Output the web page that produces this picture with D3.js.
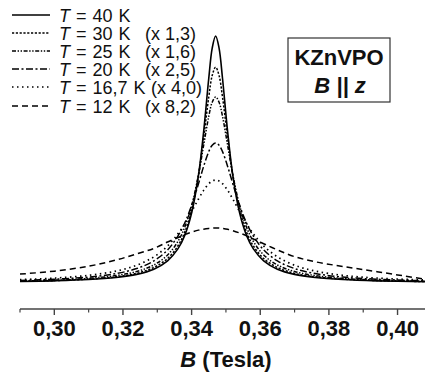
<!DOCTYPE html>
<html>
<head>
<meta charset="utf-8">
<script src="https://cdn.jsdelivr.net/npm/d3@7"></script>
<style>
  html, body { margin: 0; padding: 0; background: #fff; }
  svg { display: block; font-family: "Liberation Sans", Arial, sans-serif; }
</style>
</head>
<body>
<svg id="chart" width="425" height="378"></svg>
<script>
// ---- data ----
const fieldB = [0.290,0.300,0.310,0.318,0.324,0.329,0.333,0.336,0.338,0.340,0.342,0.3435,0.345,0.346,0.347,0.348,0.349,0.3505,0.352,0.354,0.356,0.358,0.361,0.365,0.370,0.376,0.384,0.394,0.408];
const t40  = [0.59,0.87,1.39,2.25,3.5,5.6,9.0,13.8,19.3,28.3,43.6,61.2,82.9,95.1,100,95.1,82.9,61.2,43.6,28.3,19.3,13.8,9.0,5.6,3.5,2.25,1.39,0.87,0.52];
const t30  = [0.67,0.98,1.57,2.5,3.9,6.3,9.9,15.0,20.6,29.5,43.7,58.7,75.3,84.0,87.4,84.0,75.3,58.7,43.7,29.5,20.6,15.0,9.9,6.3,3.9,2.5,1.57,0.98,0.58];
const t25  = [0.80,1.17,1.87,2.99,4.65,7.3,11.35,16.8,22.6,31.3,43.8,55.7,67.5,73.2,75.3,73.2,67.5,55.7,43.8,31.3,22.6,16.8,11.35,7.3,4.65,2.99,1.87,1.17,0.70];
const t20  = [1.04,1.52,2.41,3.82,5.85,8.96,13.4,19.0,24.3,31.4,40.2,47.2,53.2,55.8,56.7,55.8,53.2,47.2,40.2,31.4,24.3,19.0,13.4,8.96,5.85,3.82,2.41,1.52,0.91];
const t167 = [1.37,1.98,3.11,4.83,7.19,10.6,15.0,19.9,24.0,28.9,34.0,37.5,40.2,41.3,41.7,41.3,40.2,37.5,34.0,28.9,24.0,19.9,15.0,10.6,7.19,4.83,3.11,1.98,1.20];
const t12  = [3.6,4.8,6.8,9.3,11.8,14.0,16.6,18.4,19.6,20.55,21.4,21.8,22.1,22.25,22.3,22.25,22.1,21.75,21.2,20.25,19.1,17.8,15.9,13.4,10.65,8.6,6.7,4.6,1.5];

const tempLabels = ["40 K", "30 K", "25 K", "20 K", "16,7 K", "12 K"];
const factorLabels = ["", "(x 1,3)", "(x 1,6)", "(x 2,5)", "(x 4,0)", "(x 8,2)"];
const seriesValues = [t40, t30, t25, t20, t167, t12];
const majorTicks = [0.30, 0.32, 0.34, 0.36, 0.38, 0.40];
const minorTicks = [0.29, 0.31, 0.33, 0.35, 0.37, 0.39];
const xTitle = "B";
const xUnit = " (Tesla)";

// ---- styles ----
const dashes = [null, "2.2,1.6", "4,1.6,1.4,1.6,1.4,1.6", "7,2.5,2,2.5", "1.5,3.5", "6,4"];
const widths = [1.6, 1.5, 1.5, 1.5, 1.7, 1.5];

const svg = d3.select("#chart");
const x = d3.scaleLinear().domain([0.29, 0.408]).range([20, 425]);
const y = d3.scaleLinear().domain([0, 100]).range([283, 36]);

const line = d3.line()
  .x((d, i) => x(fieldB[i]))
  .y(d => y(d))
  .curve(d3.curveCatmullRom.alpha(0.5));

// curves (draw lowest first)
seriesValues.map((vals, k) => ({vals, k})).reverse().forEach(({vals, k}) => {
  svg.append("path")
    .attr("d", line(vals))
    .attr("fill", "none")
    .attr("stroke", "#000")
    .attr("stroke-width", widths[k])
    .attr("stroke-dasharray", dashes[k]);
});

// x axis
const axisY = 309;
const gAxis = svg.append("g").attr("transform", `translate(0,${axisY})`);
gAxis.append("line").attr("x1", 20).attr("x2", 425).attr("y1", 0).attr("y2", 0)
  .attr("stroke", "#444").attr("stroke-width", 1.6);
gAxis.selectAll("line.maj").data(majorTicks).join("line")
  .attr("class", "maj")
  .attr("x1", d => x(d)).attr("x2", d => x(d))
  .attr("y1", 0).attr("y2", 6)
  .attr("stroke", "#444").attr("stroke-width", 1.4);
gAxis.selectAll("line.min").data(minorTicks).join("line")
  .attr("class", "min")
  .attr("x1", d => x(d)).attr("x2", d => x(d))
  .attr("y1", 0).attr("y2", 3.5)
  .attr("stroke", "#444").attr("stroke-width", 1.2);
gAxis.selectAll("text").data(majorTicks).join("text")
  .attr("x", d => x(d)).attr("y", 27)
  .attr("text-anchor", "middle")
  .attr("font-size", 22).attr("font-weight", "bold")
  .attr("fill", "#111")
  .text(d => d3.format(".2f")(d).replace(".", ","));

const title = svg.append("text")
  .attr("x", 226).attr("y", 367)
  .attr("text-anchor", "middle")
  .attr("font-size", 22).attr("font-weight", "bold").attr("fill", "#111");
title.append("tspan").attr("font-style", "italic").text(xTitle);
title.append("tspan").text(xUnit);

// legend
const legendRowY = [15, 33, 51, 69, 87, 106];
const factorX = [0, 145, 145, 145, 151, 145];
seriesValues.forEach((vals, k) => {
  const yy = legendRowY[k];
  svg.append("line")
    .attr("x1", 12).attr("x2", 50).attr("y1", yy).attr("y2", yy)
    .attr("stroke", "#000").attr("stroke-width", widths[k])
    .attr("stroke-dasharray", dashes[k]);
  const t = svg.append("text")
    .attr("x", 59).attr("y", yy + 6.5)
    .attr("font-size", 18).attr("fill", "#111")
    .attr("word-spacing", 1);
  t.append("tspan").attr("font-style", "italic").text("T");
  t.append("tspan").text(" = " + tempLabels[k]);
  if (factorLabels[k]) {
    svg.append("text")
      .attr("x", factorX[k]).attr("y", yy + 6.5)
      .attr("font-size", 18).attr("fill", "#111")
      .text(factorLabels[k]);
  }
});

// sample label box
svg.append("rect")
  .attr("x", 288).attr("y", 38).attr("width", 102).attr("height", 64)
  .attr("fill", "#fff").attr("stroke", "#333").attr("stroke-width", 1.2);
svg.append("text")
  .attr("x", 339).attr("y", 65).attr("text-anchor", "middle")
  .attr("font-size", 22).attr("font-weight", "bold").attr("fill", "#111")
  .text("KZnVPO");
svg.append("text")
  .attr("x", 340).attr("y", 93).attr("text-anchor", "middle")
  .attr("font-size", 22).attr("font-weight", "bold").attr("font-style", "italic").attr("fill", "#111")
  .text("B || z");
</script>
</body>
</html>
